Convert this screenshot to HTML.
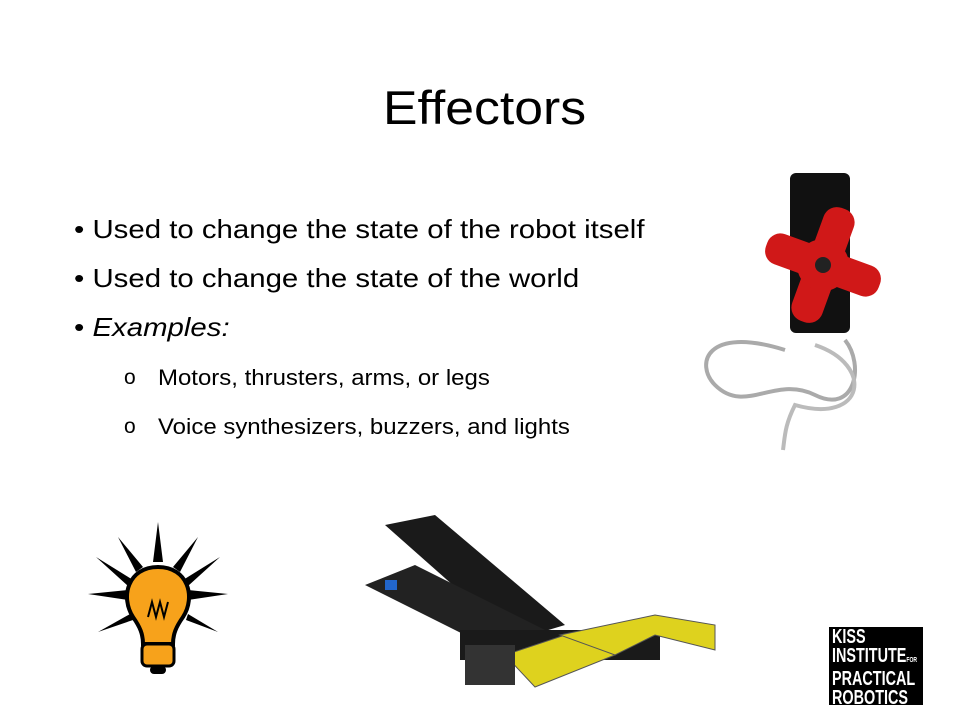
<!DOCTYPE html>
<html><head><meta charset="utf-8">
<style>
html,body{margin:0;padding:0;background:#fff;}
#slide{position:relative;width:960px;height:720px;overflow:hidden;background:#fff;font-family:"Liberation Sans","DejaVu Sans",sans-serif;color:#000;}
.t{position:absolute;white-space:nowrap;transform-origin:0 0;}
</style></head><body>
<div id="slide">
  <div class="t" style="left:383px;top:80px;font-size:47px;transform:scaleX(1.1);">Effectors</div>

  <div class="t" style="left:74px;top:214px;font-size:26px;transform:scaleX(1.13);">• Used to change the state of the robot itself</div>
  <div class="t" style="left:74px;top:263px;font-size:26px;transform:scaleX(1.13);">• Used to change the state of the world</div>
  <div class="t" style="left:74px;top:312px;font-size:26px;transform:scaleX(1.13);">• <i>Examples:</i></div>
  <div class="t" style="left:124px;top:366px;font-size:21px;">o</div>
  <div class="t" style="left:158px;top:365px;font-size:22px;transform:scaleX(1.09);">Motors, thrusters, arms, or legs</div>
  <div class="t" style="left:124px;top:415px;font-size:21px;">o</div>
  <div class="t" style="left:158px;top:414px;font-size:22px;transform:scaleX(1.09);">Voice synthesizers, buzzers, and lights</div>

  <svg style="position:absolute;left:695px;top:165px" width="200" height="295">
    <rect x="95" y="8" width="60" height="160" rx="6" fill="#111"/>
    <path d="M90 185 C10 160 0 200 20 220 C50 250 80 210 120 230 C160 250 170 200 150 175" stroke="#aaa" stroke-width="4" fill="none"/>
    <path d="M120 180 C180 200 170 260 100 240 C90 260 90 270 88 285" stroke="#bbb" stroke-width="4" fill="none"/>
    <g transform="translate(128,100) rotate(20)" fill="#d01818">
      <rect x="-60" y="-16" width="120" height="32" rx="14"/>
      <rect x="-16" y="-60" width="32" height="120" rx="14"/>
      <circle r="26"/>
    </g>
    <circle cx="128" cy="100" r="8" fill="#222"/>
  </svg>

  <svg style="position:absolute;left:88px;top:522px" width="145" height="160">
    <g fill="#000">
      <polygon points="70,0 75,40 65,40"/>
      <polygon points="30,15 55,45 48,50"/>
      <polygon points="110,15 92,50 85,45"/>
      <polygon points="0,72 40,68 40,78"/>
      <polygon points="140,72 100,68 100,78"/>
      <polygon points="8,35 45,58 40,64"/>
      <polygon points="132,35 100,64 95,58"/>
      <polygon points="10,110 42,92 45,98"/>
      <polygon points="130,110 98,98 100,92"/>
    </g>
    <path d="M70 45 C40 45 32 75 45 95 C52 105 55 112 55 122 L85 122 C85 112 88 105 95 95 C108 75 100 45 70 45Z" fill="#f7a21b" stroke="#000" stroke-width="4"/>
    <path d="M60 95 L64 80 L68 95 L72 80 L76 95 L80 80" stroke="#000" stroke-width="2" fill="none"/>
    <rect x="54" y="122" width="32" height="22" rx="5" fill="#f7a21b" stroke="#000" stroke-width="3"/>
    <rect x="62" y="144" width="16" height="8" rx="4" fill="#000"/>
  </svg>

  <svg style="position:absolute;left:355px;top:515px" width="370" height="180">
    <polygon points="30,10 80,0 210,110 160,125" fill="#1a1a1a"/>
    <polygon points="10,70 60,50 200,120 150,140" fill="#222"/>
    <rect x="105" y="115" width="200" height="30" fill="#1a1a1a"/>
    <polygon points="150,140 210,120 260,140 180,172" fill="#ded21e" stroke="#555"/>
    <polygon points="205,120 300,100 360,110 360,135 300,120 260,140" fill="#ded21e" stroke="#555"/>
    <rect x="110" y="130" width="50" height="40" fill="#333"/>
    <rect x="30" y="65" width="12" height="10" fill="#2266cc"/>
  </svg>

  <div style="position:absolute;left:829px;top:627px;width:94px;height:78px;background:#000;overflow:hidden;">
    <div style="position:absolute;left:3px;top:1px;color:#fff;font-family:'Liberation Sans',sans-serif;font-weight:bold;font-size:20px;line-height:19px;transform:scaleX(0.72);transform-origin:0 0;white-space:nowrap;">KISS<br>INSTITUTE<span style="font-size:7px">FOR</span><br>PRACTICAL<br>ROBOTICS</div>
  </div>
</div>
</body></html>
